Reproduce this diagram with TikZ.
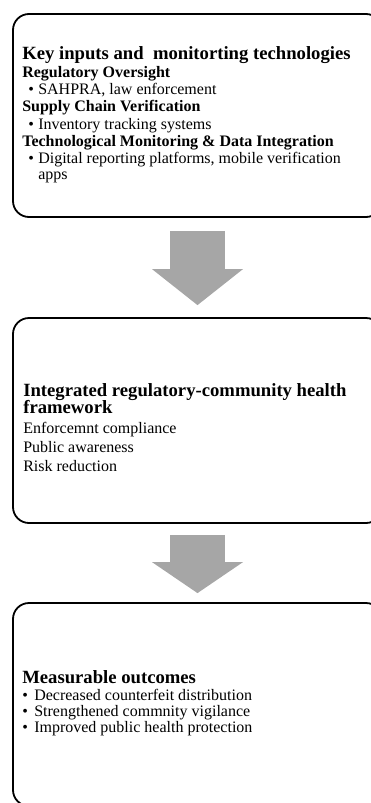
\documentclass[tikz,border=0pt]{standalone}
\usepackage{fontspec}
\setmainfont{Liberation Serif}
\usepackage{tikz}
\usetikzlibrary{positioning, calc, arrows.meta}
\definecolor{arrowgray}{HTML}{A6A6A6}
\newcommand{\boxtitle}[1]{{\fontsize{18.67}{20}\selectfont\bfseries #1}}
\newcommand{\bul}[2]{\hspace*{#1}\makebox[#2][l]{\textbullet}}

\begin{document}
\begin{tikzpicture}[x=1pt, y=-1pt, every node/.style={align=left, inner sep=0pt},
  box/.style={draw, line width=1.8pt, rounded corners=16pt, minimum width=369pt},
  flow/.style={draw=arrowgray, line width=55pt, -{Triangle[width=91pt, length=#1, line width=0pt]}}]
\clip (0,0) rectangle (371,803);
\node[box, minimum height=203pt] (inputs) at (197.5,115.5) {};
\node[box, minimum height=205pt] (framework) at (197.5,420.5) {};
\node[box, minimum height=203pt] (outcomes) at (197.5,704.5) {};
\node[anchor=north west, font=\fontsize{16}{17.2}\selectfont] (inputs text) at ([xshift=10pt, yshift=-33pt]inputs.north west) {\boxtitle{Key inputs and\ \ monitorting technologies}\\[1pt]
  \textbf{Regulatory Oversight}\\
  \bul{6pt}{10pt}SAHPRA, law enforcement\\
  \textbf{Supply Chain Verification}\\
  \bul{6pt}{10pt}Inventory tracking systems\\
  \textbf{Technological Monitoring \& Data Integration}\\
  \bul{6pt}{10pt}Digital reporting platforms, mobile verification\\[-1.5pt]
  \hspace*{16pt}apps};
\node[anchor=north west, font=\fontsize{16}{19.2}\selectfont] (framework text) at ([xshift=11pt, yshift=-66pt]framework.north west) {\boxtitle{Integrated regulatory-community health}\\[-1.5pt]
  \boxtitle{framework}\\
  Enforcemnt compliance\\
  Public awareness\\
  Risk reduction};
\node[anchor=north west, font=\fontsize{16}{16}\selectfont] (outcomes text) at ([xshift=10pt, yshift=-68pt]outcomes.north west) {\boxtitle{Measurable outcomes}\\[1pt]
  \bul{0pt}{12pt}Decreased counterfeit distribution\\
  \bul{0pt}{12pt}Strengthened commnity vigilance\\
  \bul{0pt}{12pt}Improved public health protection};
\draw[flow=36pt] ([yshift=-13pt]inputs.south) -- ([yshift=12pt]framework.north);
\draw[flow=31pt] ([yshift=-11pt]framework.south) -- ([yshift=9pt]outcomes.north);
\end{tikzpicture}
\end{document}
